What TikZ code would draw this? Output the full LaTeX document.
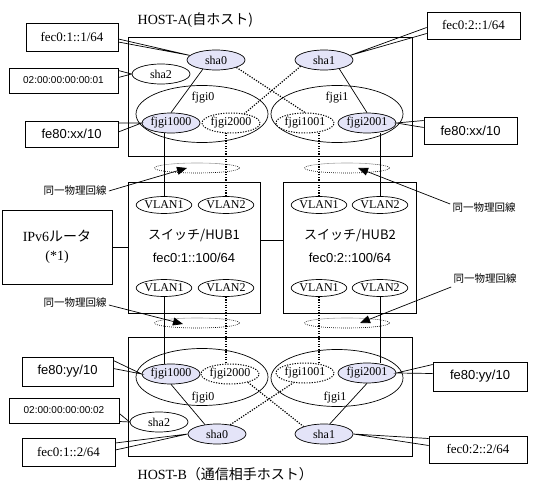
\documentclass[tikz,border=0pt]{standalone}
\usepackage{fontspec}
\setmainfont{Liberation Serif}
\setsansfont{Liberation Sans}
\newfontfamily\jp{Noto Sans CJK JP}
\usetikzlibrary{shapes.geometric,arrows.meta}
\definecolor{Lav}{RGB}{228,228,248}
\newcommand{\SetPt}[1]{\fontsize{#1}{#1}\selectfont}
\newcommand{\Ew}{58pt}
\newcommand{\Eh}{20pt}
\tikzset{Port/.style={
    ellipse,
    inner sep=0pt,
    minimum width=\Ew,
    minimum height=\Eh,
    draw=black,
    fill=white,
    font=\SetPt{12},
    },
  Tag/.style={
    rectangle,
    inner sep=0pt,
    draw=black,
    fill=white,
    align=center,
    }
}
\newcommand{\Pin}[4]{\draw ([yshift=#2]#1) -- (#4) -- ([yshift=#3]#1);}

\begin{document}
\begin{tikzpicture}[x=1pt, y=-1pt, line width=0.7pt,
    act/.style={Port, fill=Lav},
    stby/.style={Port, line width=1pt, dash pattern=on 1.2pt off 1.4pt},
    bond/.style={ellipse, draw, inner sep=0pt, minimum width=132pt, minimum height=57pt},
    vlan/.style={ellipse, draw, inner sep=0pt, minimum width=48pt, minimum height=17pt, font=\SetPt{12}},
    ring/.style={ellipse, draw, inner sep=0pt, minimum width=85pt, minimum height=10pt,
                 line width=0.6pt, dash pattern=on 0.8pt off 1.2pt},
    vdot/.style={line width=1.2pt, dash pattern=on 1.2pt off 1.4pt},
    phys/.style={font=\jp\SetPt{10.5}, inner sep=2pt},
    Arr/.style={-{Triangle[length=10pt,width=8pt]}},
]
\useasboundingbox (0,0) rectangle (551,494);

% HOST-A
\node[draw, minimum width=284pt, minimum height=119pt] (hostA) at (270,96.5) {};
\node[anchor=west, font=\SetPt{14}] (tHostA) at (134,20) {HOST-A(\jp{自ホスト})};
\node[bond] (gA0) at (202,114) {};
\node[bond] (gA1) at (337,114) {};
\node[font=\SetPt{12}] (nA0) at (203,98) {fjgi0};
\node[font=\SetPt{12}] (nA1) at (337,98) {fjgi1};
\node[act] (sA0) at (216,60) {sha0};
\node[act] (sA1) at (324,60) {sha1};
\node[Port] (sA2) at (161,74) {sha2};
\node[act] (fA1000) at (171,123) {fjgi1000};
\node[stby] (fA2000) at (231,123) {fjgi2000};
\node[stby] (fA1001) at (305,123) {fjgi1001};
\node[act] (fA2001) at (367,123) {fjgi2001};
\draw (sA0.215) -- (fA1000.north);
\draw[vdot] (sA0.340) -- (fA1001.north);
\draw[vdot] (sA1.195) -- (fA2000.35);
\draw (sA1.330) -- (fA2001.north);

% switches
\node[draw, minimum width=132pt, minimum height=131pt] (hub1) at (194,247.5) {};
\node[draw, minimum width=133pt, minimum height=131pt] (hub2) at (349.5,247.5) {};
\node[font=\sffamily\SetPt{13}] (tHub1) at (194,236) {\jp{スイッチ}/HUB1};
\node[font=\sffamily\SetPt{13}] (aHub1) at (194,258) {fec0:1::100/64};
\node[font=\sffamily\SetPt{13}] (tHub2) at (350,236) {\jp{スイッチ}/HUB2};
\node[font=\sffamily\SetPt{13}] (aHub2) at (350,258) {fec0:2::100/64};
\node[vlan] (u11) at (164,205) {VLAN1};
\node[vlan] (u12) at (226,205) {VLAN2};
\node[vlan] (d11) at (164,288) {VLAN1};
\node[vlan] (d12) at (226,288) {VLAN2};
\node[vlan] (u21) at (319,205) {VLAN1};
\node[vlan] (u22) at (380,205) {VLAN2};
\node[vlan] (d21) at (319,288) {VLAN1};
\node[vlan] (d22) at (380,288) {VLAN2};
\node[draw, minimum width=110pt, minimum height=74pt, align=center,
      font=\SetPt{14}] (rtr) at (57,247) {IPv6\jp{ルータ}\\[5pt](*1)};
\draw (rtr.east) -- (rtr.east -| hub1.west);
\draw ([yshift=7pt]hub1.east) -- ([yshift=7pt]hub2.west);

% HOST-B
\node[draw, minimum width=284pt, minimum height=119pt] (hostB) at (270,396.5) {};
\node[anchor=west, font=\SetPt{14}] (tHostB) at (134,474) {HOST-B\jp{（通信相手ホスト）}};
\node[bond] (gB0) at (202,377) {};
\node[bond] (gB1) at (337,378) {};
\node[font=\SetPt{12}] (nB0) at (203,398) {fjgi0};
\node[font=\SetPt{12}] (nB1) at (335,398) {fjgi1};
\node[act] (fB1000) at (171,374) {fjgi1000};
\node[stby] (fB2000) at (230,374) {fjgi2000};
\node[stby] (fB1001) at (305,373) {fjgi1001};
\node[act] (fB2001) at (367,373) {fjgi2001};
\node[Port] (sB2) at (159,422) {sha2};
\node[act] (sB0) at (217,434) {sha0};
\node[act] (sB1) at (324,434) {sha1};
\draw (fB1000.south) -- (sB0.142);
\draw[vdot] (fB2000.335) -- (sB1.160);
\draw[vdot] (sB0.35) -- (fB1001.220);
\draw (fB2001.south) -- (sB1.60);

% VLAN links
\draw (u11.north) -- (u11.north |- fA1000.south);
\draw[vdot] (u12.north) -- (u12.north |- fA2000.south);
\draw[vdot] (u21.north) -- (u21.north |- fA1001.south);
\draw (u22.north) -- (u22.north |- fA2001.south);
\draw (d11.south) -- (d11.south |- fB1000.north);
\draw[vdot] (d12.south) -- (d12.south |- fB2000.north);
\draw[vdot] (d21.south) -- (d21.south |- fB1001.north);
\draw (d22.south) -- (d22.south |- fB2001.north);

% same physical line
\node[ring] (rA1) at (197,168) {};
\node[ring] (rA2) at (347,168) {};
\node[ring] (rB1) at (197,323) {};
\node[ring] (rB2) at (347,323) {};
\node[phys] (qA1) at (75,191) {同一物理回線};
\node[phys] (qA2) at (484,208) {同一物理回線};
\node[phys] (qB1) at (75,303) {同一物理回線};
\node[phys] (qB2) at (485,279) {同一物理回線};
\draw[Arr] (qA1.east) -- ([xshift=-10pt]rA1.center);
\draw[Arr] ([yshift=4pt]qA2.west) -- ([xshift=11pt]rA2.center);
\draw[Arr] ([yshift=-2pt]qB1.east) -- ([xshift=-14pt,yshift=-1pt]rB1.center);
\draw[Arr] ([yshift=-8pt]qB2.west) -- ([xshift=13pt]rB2.center);

% address tags
\node[Tag, minimum width=92pt, minimum height=28pt, font=\SetPt{13}] (tA0) at (72,37) {fec0:1::1/64};
\node[Tag, minimum width=109pt, minimum height=25pt, font=\sffamily\SetPt{10}] (tA2) at (63.5,80.5) {02:00:00:00:00:01};
\node[Tag, minimum width=93pt, minimum height=26pt, font=\sffamily\SetPt{13}] (tA3) at (71.5,134) {fe80:xx/10};
\node[Tag, minimum width=93pt, minimum height=27pt, font=\SetPt{13}] (tA1) at (473.5,25.5) {fec0:2::1/64};
\node[Tag, minimum width=93pt, minimum height=27pt, font=\sffamily\SetPt{13}] (tA4) at (470.5,130.5) {fe80:xx/10};
\node[Tag, minimum width=91pt, minimum height=29pt, font=\sffamily\SetPt{13}] (tB3) at (67.5,371.5) {fe80:yy/10};
\node[Tag, minimum width=110pt, minimum height=25pt, font=\sffamily\SetPt{10}] (tB2) at (64,410.5) {02:00:00:00:00:02};
\node[Tag, minimum width=93pt, minimum height=28pt, font=\SetPt{13}] (tB0) at (68.5,452) {fec0:1::2/64};
\node[Tag, minimum width=94pt, minimum height=29pt, font=\sffamily\SetPt{13}] (tB4) at (480,376.5) {fe80:yy/10};
\node[Tag, minimum width=98pt, minimum height=27pt, font=\SetPt{13}] (tB1) at (478,449.5) {fec0:2::2/64};
\Pin{tA0.east}{-2pt}{-5pt}{sA0.170}
\Pin{tA2.east}{10pt}{3pt}{sA2.west}
\Pin{tA3.east}{11pt}{2pt}{fA1000.west}
\Pin{tA1.west}{-2pt}{-8pt}{sA1.10}
\Pin{tA4.west}{10pt}{3pt}{fA2001.east}
\Pin{tB3.east}{11pt}{3pt}{fB1000.west}
\Pin{tB2.east}{-3pt}{-11pt}{sB2.west}
\Pin{tB0.east}{9pt}{2pt}{sB0.west}
\Pin{tB4.west}{12pt}{3pt}{fB2001.east}
\Pin{tB1.west}{11pt}{4pt}{sB1.east}
\end{tikzpicture}
\end{document}
